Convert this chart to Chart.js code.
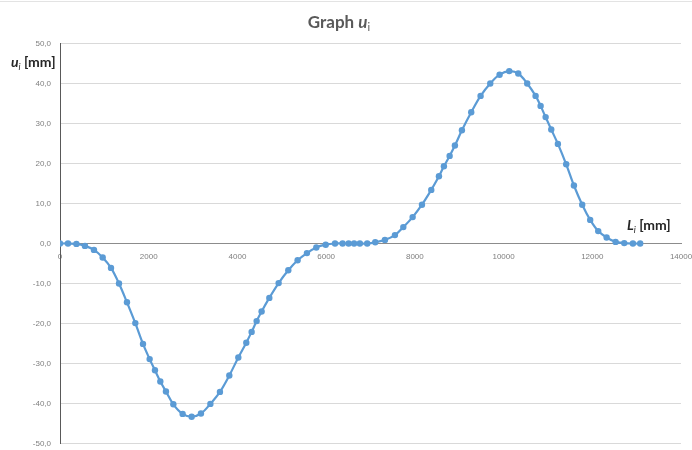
<!DOCTYPE html>
<html>
<head>
<meta charset="utf-8">
<script src="https://cdn.jsdelivr.net/npm/chart.js@4/dist/chart.umd.min.js"></script>
<style>
  html, body { margin: 0; padding: 0; background: #fff; }
  #wrap { width: 692px; height: 450px; }
</style>
</head>
<body>
<div id="wrap"><canvas id="c" width="692" height="450"></canvas></div>
<script>
// Station along the member L_i [mm]
const lengthsMm = [
  0, 180, 370, 563, 766, 962, 1150, 1330, 1510, 1698,
  1871, 2021, 2141, 2262, 2389, 2555, 2765, 2968, 3178, 3390,
  3606, 3817, 4020, 4200, 4320, 4433, 4545, 4719, 4929, 5147,
  5357, 5567, 5778, 5990, 6200, 6371, 6507, 6630, 6760, 6926,
  7107, 7325, 7551, 7740, 7950, 8160, 8370, 8543, 8655, 8784,
  8903, 9061, 9271, 9482, 9700, 9910, 10128, 10331, 10533, 10722,
  10835, 10948, 11075, 11225, 11412, 11586, 11773, 11953, 12134, 12323,
  12526, 12720, 12916, 13080
];

// Displacement u_i [mm] at each station
const displacementsMm = [
  0, 0, -0.1, -0.6, -1.6, -3.5, -6.1, -10.0, -14.7, -19.9,
  -25.1, -28.9, -31.7, -34.5, -37.0, -40.2, -42.6, -43.3, -42.5, -40.1,
  -37.1, -33.0, -28.5, -24.8, -22.1, -19.4, -17.0, -13.6, -9.9, -6.7,
  -4.2, -2.4, -1.0, -0.3, 0, 0, 0, 0, 0, 0,
  0.3, 0.9, 2.1, 4.1, 6.6, 9.7, 13.4, 16.8, 19.3, 21.9,
  24.5, 28.3, 32.8, 36.9, 40.0, 42.2, 43.1, 42.5, 40.0, 36.9,
  34.4, 31.6, 28.5, 24.9, 19.8, 14.5, 9.7, 5.9, 3.1, 1.5,
  0.4, 0.1, 0, 0
];

const xTickValues = [0, 2000, 4000, 6000, 8000, 10000, 12000, 14000];
const yTickValues = [-50, -40, -30, -20, -10, 0, 10, 20, 30, 40, 50];

const points = lengthsMm.map((x, i) => ({ x: x, y: displacementsMm[i] }));
const BLUE = '#5B9BD5';

// Draws a run of differently styled text pieces (for italics and subscripts)
function drawRich(ctx, parts, x, y, align) {
  ctx.save();
  ctx.textBaseline = 'alphabetic';
  ctx.textAlign = 'left';
  let total = 0;
  parts.forEach(p => { ctx.font = p.font; total += ctx.measureText(p.text).width; });
  let cx = align === 'center' ? x - total / 2 : x;
  parts.forEach(p => {
    ctx.font = p.font;
    ctx.fillStyle = p.color;
    ctx.fillText(p.text, cx, y + (p.dy || 0));
    cx += ctx.measureText(p.text).width;
  });
  ctx.restore();
}

const labelsPlugin = {
  id: 'richLabels',
  afterDraw(chart) {
    const ctx = chart.ctx;
    // faint frame edge along the top
    ctx.save();
    ctx.strokeStyle = '#e3e3e3';
    ctx.lineWidth = 1;
    ctx.beginPath();
    ctx.moveTo(0, 1.5);
    ctx.lineTo(692, 1.5);
    ctx.stroke();
    ctx.restore();

    const titleColor = '#595959';
    drawRich(ctx, [
      { text: 'Graph ', font: 'bold 17px Lato', color: titleColor },
      { text: 'u', font: 'italic bold 17px Lato', color: titleColor },
      { text: 'i', font: '11px Lato', color: titleColor, dy: 3 }
    ], 339, 28, 'center');

    const axisColor = '#262626';
    drawRich(ctx, [
      { text: 'u', font: 'italic bold 14px Lato', color: axisColor },
      { text: 'i', font: 'italic 9px Lato', color: axisColor, dy: 3 },
      { text: ' [mm]', font: 'bold 14px Lato', color: axisColor }
    ], 11, 67, 'left');

    drawRich(ctx, [
      { text: 'L', font: 'italic bold 14px Lato', color: axisColor },
      { text: 'i', font: 'italic 9px Lato', color: axisColor, dy: 3 },
      { text: ' [mm]', font: 'bold 14px Lato', color: axisColor }
    ], 627, 230, 'left');
  }
};

new Chart(document.getElementById('c'), {
  type: 'line',
  data: {
    datasets: [{
      data: points,
      borderColor: BLUE,
      backgroundColor: BLUE,
      borderWidth: 2.2,
      pointRadius: 3.2,
      pointBorderWidth: 0,
      pointBackgroundColor: BLUE,
      tension: 0.35,
      fill: false
    }]
  },
  options: {
    responsive: false,
    animation: false,
    events: [],
    layout: { padding: { top: 43.5, right: 11, bottom: 6.5, left: 0 } },
    plugins: {
      legend: { display: false },
      tooltip: { enabled: false },
      title: { display: false }
    },
    scales: {
      x: {
        type: 'linear',
        min: 0,
        max: 14000,
        position: { y: 0 },
        afterBuildTicks: s => { s.ticks = xTickValues.map(v => ({ value: v })); },
        afterFit: s => { s.paddingLeft = 0; s.paddingRight = 0; },
        grid: { display: false, drawTicks: false },
        border: { display: true, color: '#8c8c8c', width: 1 },
        ticks: {
          padding: 8,
          maxRotation: 0,
          color: '#7f7f7f',
          font: { family: 'Liberation Sans', size: 8 },
          callback: v => String(v)
        }
      },
      y: {
        min: -50,
        max: 50,
        afterBuildTicks: s => { s.ticks = yTickValues.map(v => ({ value: v })); },
        afterFit: s => { s.width = 60; s.paddingTop = 0; s.paddingBottom = 0; },
        grid: { color: '#d9d9d9', lineWidth: 1, drawTicks: false },
        border: { display: true, color: '#595959', width: 1 },
        ticks: {
          padding: 9,
          color: '#7f7f7f',
          font: { family: 'Liberation Sans', size: 8 },
          callback: v => v.toFixed(1).replace('.', ',')
        }
      }
    }
  },
  plugins: [labelsPlugin]
});
</script>
</body>
</html>
